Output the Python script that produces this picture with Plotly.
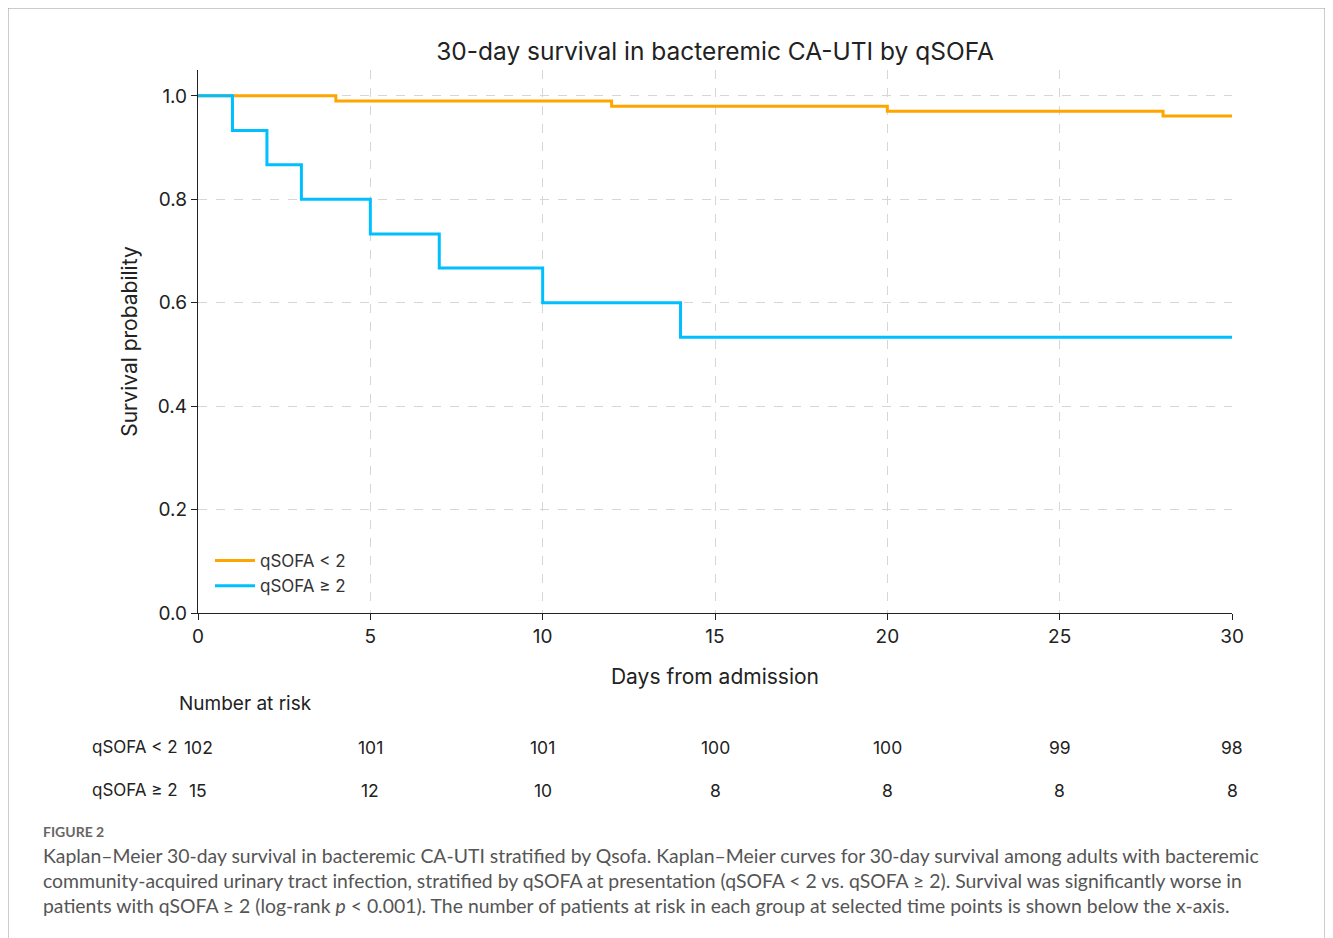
import plotly.graph_objects as go

# Kaplan-Meier step data
days_low = [0, 4, 12, 20, 28, 30]
surv_low = [1.0, 0.990, 0.980, 0.970, 0.961, 0.961]
days_high = [0, 1, 2, 3, 5, 7, 10, 14, 30]
surv_high = [1.0, 0.933, 0.867, 0.800, 0.733, 0.667, 0.600, 0.533, 0.533]

risk_times = [0, 5, 10, 15, 20, 25, 30]
risk_low = [102, 101, 101, 100, 100, 99, 98]
risk_high = [15, 12, 10, 8, 8, 8, 8]

x_ticks = [0, 5, 10, 15, 20, 25, 30]
y_ticks = [0.0, 0.2, 0.4, 0.6, 0.8, 1.0]

ORANGE = "#FFA500"
BLUE = "#00BFFF"
FONT = "Inter, Roboto, sans-serif"
CAPFONT = "Lato, 'Open Sans', sans-serif"

OFF = 8  # page body margin
W, H = 1333 - OFF, 938 - OFF
L, R, T, B = 198, 1232, 70, 613  # target page pixels of plot area


def px_x(p):
    return (p - L) / (R - L)


def px_y(p):
    return (B - p) / (B - T)


fig = go.Figure()
fig.add_trace(go.Scatter(x=days_low, y=surv_low, mode="lines", line_shape="hv",
                         line=dict(color=ORANGE, width=3), name="qSOFA < 2"))
fig.add_trace(go.Scatter(x=days_high, y=surv_high, mode="lines", line_shape="hv",
                         line=dict(color=BLUE, width=3), name="qSOFA ≥ 2"))

fig.update_layout(
    width=W, height=H,
    margin=dict(l=L - OFF, r=(1333 - OFF) - (R - OFF), t=T - OFF, b=(938 - OFF) - (B - OFF)),
    paper_bgcolor="white", plot_bgcolor="white",
    font=dict(family=FONT, color="#222", size=18),
    title=dict(text="30-day survival in bacteremic CA-UTI by qSOFA",
               x=((L + R) / 2 - OFF) / W, xanchor="center",
               y=1 - (51 - OFF) / H, yanchor="middle",
               font=dict(size=24.5, color="#222")),
    showlegend=True,
    legend=dict(x=px_x(210), y=px_y(543), xanchor="left", yanchor="top",
                bgcolor="rgba(255,255,255,0)", font=dict(size=17, color="#333"),
                itemwidth=40, tracegroupgap=0),
)

fig.update_xaxes(range=[0, 30], tickvals=x_ticks, showgrid=True,
                 gridcolor="#d6d6d6", griddash="dash", gridwidth=1.2,
                 showline=True, linecolor="#222", linewidth=1.2,
                 ticks="outside", ticklen=6, tickcolor="#222",
                 tickfont=dict(size=19), zeroline=False,
                 title=dict(text="Days from admission", font=dict(size=21), standoff=22))
fig.update_yaxes(range=[0, 1.05], tickvals=y_ticks, ticktext=[f"{v:.1f}" for v in y_ticks],
                 showgrid=True, gridcolor="#d6d6d6", griddash="dash", gridwidth=1.2,
                 showline=True, linecolor="#222", linewidth=1.2,
                 ticks="outside", ticklen=6, tickcolor="#222",
                 tickfont=dict(size=19), zeroline=False,
                 title=dict(text="Survival probability", font=dict(size=21), standoff=14))

ann = []
ann.append(dict(text="Number at risk", x=px_x(177), y=px_y(703), xref="paper", yref="paper",
                xanchor="left", yanchor="middle", showarrow=False,
                font=dict(size=19, color="#222")))
ann.append(dict(text="qSOFA < 2", x=px_x(90), y=px_y(747), xref="paper", yref="paper",
                xanchor="left", yanchor="middle", showarrow=False,
                font=dict(size=17, color="#222")))
ann.append(dict(text="qSOFA ≥ 2", x=px_x(90), y=px_y(790), xref="paper", yref="paper",
                xanchor="left", yanchor="middle", showarrow=False,
                font=dict(size=17, color="#222")))
for t, a, b in zip(risk_times, risk_low, risk_high):
    ann.append(dict(text=str(a), x=t, y=px_y(747), xref="x", yref="paper",
                    xanchor="center", yanchor="middle", showarrow=False,
                    font=dict(size=17.5, color="#222")))
    ann.append(dict(text=str(b), x=t, y=px_y(790), xref="x", yref="paper",
                    xanchor="center", yanchor="middle", showarrow=False,
                    font=dict(size=17.5, color="#222")))

ann.append(dict(text="<b>FIGURE 2</b>", x=px_x(41), y=px_y(831), xref="paper", yref="paper",
                xanchor="left", yanchor="middle", showarrow=False,
                font=dict(size=14, color="#666", family=CAPFONT)))
caption = ("Kaplan–Meier 30-day survival in bacteremic CA-UTI stratified by Qsofa. Kaplan–Meier curves for 30-day survival among adults with bacteremic<br>"
           "community-acquired urinary tract infection, stratified by qSOFA at presentation (qSOFA < 2 vs. qSOFA ≥ 2). Survival was significantly worse in<br>"
           "patients with qSOFA ≥ 2 (log-rank <i>p</i> < 0.001). The number of patients at risk in each group at selected time points is shown below the x-axis.")
ann.append(dict(text=caption, x=px_x(41), y=px_y(842), xref="paper", yref="paper",
                xanchor="left", yanchor="top", align="left", showarrow=False,
                font=dict(size=19.4, color="#555", family=CAPFONT)))
fig.update_layout(annotations=ann)

fig.add_shape(type="rect", xref="paper", yref="paper",
              x0=px_x(8), x1=px_x(1325), y0=px_y(950), y1=px_y(8),
              line=dict(color="#9a9a9a", width=1), fillcolor="rgba(0,0,0,0)", layer="below")

fig.write_html("out.html")
